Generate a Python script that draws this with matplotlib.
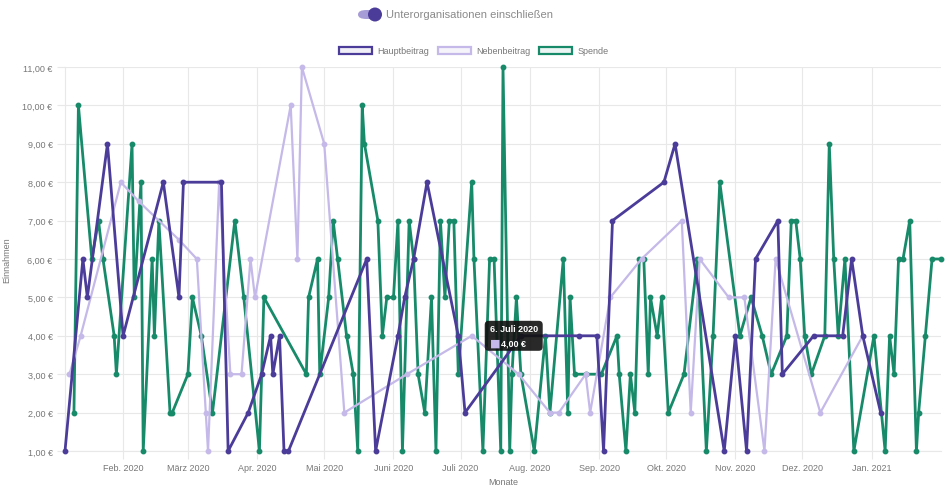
import pandas as pd
import matplotlib
matplotlib.use('Agg')
import matplotlib.pyplot as plt
import matplotlib.dates as mdates
from matplotlib.patches import Patch, FancyBboxPatch, Ellipse
from matplotlib.transforms import offset_copy

plt.rcParams['font.family'] = ['Liberation Sans', 'DejaVu Sans']

# Hauptbeitrag
haupt_dates = ['2020-01-06', '2020-01-14', '2020-01-16', '2020-01-25', '2020-02-01',
               '2020-02-19', '2020-02-26', '2020-02-28', '2020-03-16', '2020-03-19',
               '2020-03-28', '2020-04-03', '2020-04-07', '2020-04-08', '2020-04-11',
               '2020-04-13', '2020-04-15', '2020-05-20', '2020-05-24', '2020-06-03',
               '2020-06-06', '2020-06-10', '2020-06-16', '2020-06-30', '2020-07-03',
               '2020-07-28', '2020-08-23', '2020-08-31', '2020-09-03', '2020-09-07',
               '2020-09-30', '2020-10-05', '2020-10-27', '2020-11-01', '2020-11-06',
               '2020-11-10', '2020-11-20', '2020-11-22', '2020-12-06', '2020-12-19',
               '2020-12-23', '2020-12-28', '2021-01-05']
haupt_values = [1, 6, 5, 9, 4, 8, 5, 8, 8, 1,
                2, 3, 4, 3, 4, 1, 1, 6, 1, 4,
                5, 6, 8, 4, 2, 4, 4, 4, 1, 7,
                8, 9, 1, 4, 1, 6, 7, 3, 4, 4,
                6, 4, 2]

# Nebenbeitrag
neben_dates = ['2020-01-08', '2020-01-13', '2020-01-31', '2020-02-08', '2020-02-26',
               '2020-03-05', '2020-03-09', '2020-03-10', '2020-03-15', '2020-03-20',
               '2020-03-25', '2020-03-29', '2020-03-31', '2020-04-16', '2020-04-19',
               '2020-04-21', '2020-05-01', '2020-05-10', '2020-06-07', '2020-07-06',
               '2020-07-27', '2020-08-10', '2020-08-14', '2020-08-26', '2020-08-28',
               '2020-09-06', '2020-09-20', '2020-10-08', '2020-10-12', '2020-10-16',
               '2020-10-29', '2020-11-05', '2020-11-14', '2020-11-19', '2020-12-09',
               '2020-12-28']
neben_values = [3, 4, 8, 7.5, 6.5, 6, 2, 1, 8, 3,
                3, 6, 5, 10, 6, 11, 9, 2, 3, 4,
                3, 2, 2, 3, 2, 5, 6, 7, 2, 6,
                5, 5, 1, 6, 2, 4]

# Spende
spende_dates = ['2020-01-10', '2020-01-12', '2020-01-18', '2020-01-21', '2020-01-23',
                '2020-01-28', '2020-01-29', '2020-02-05', '2020-02-06', '2020-02-09',
                '2020-02-10', '2020-02-14', '2020-02-15', '2020-02-17', '2020-02-22',
                '2020-02-23', '2020-03-01', '2020-03-03', '2020-03-07', '2020-03-12',
                '2020-03-22', '2020-03-26', '2020-04-02', '2020-04-04', '2020-04-23',
                '2020-04-24', '2020-04-28', '2020-04-29', '2020-05-03', '2020-05-05',
                '2020-05-07', '2020-05-11', '2020-05-14', '2020-05-16', '2020-05-18',
                '2020-05-19', '2020-05-25', '2020-05-27', '2020-05-29', '2020-06-01',
                '2020-06-03', '2020-06-05', '2020-06-08', '2020-06-10', '2020-06-12',
                '2020-06-15', '2020-06-18', '2020-06-20', '2020-06-22', '2020-06-24',
                '2020-06-26', '2020-06-28', '2020-06-30', '2020-07-06', '2020-07-07',
                '2020-07-11', '2020-07-14', '2020-07-16', '2020-07-19', '2020-07-20',
                '2020-07-23', '2020-07-24', '2020-07-26', '2020-07-28', '2020-08-03',
                '2020-08-08', '2020-08-10', '2020-08-16', '2020-08-18', '2020-08-19',
                '2020-08-21', '2020-08-26', '2020-09-02', '2020-09-09', '2020-09-10',
                '2020-09-13', '2020-09-15', '2020-09-17', '2020-09-19', '2020-09-21',
                '2020-09-23', '2020-09-24', '2020-09-27', '2020-09-29', '2020-10-02',
                '2020-10-09', '2020-10-15', '2020-10-19', '2020-10-22', '2020-10-25',
                '2020-11-03', '2020-11-08', '2020-11-13', '2020-11-17', '2020-11-24',
                '2020-11-26', '2020-11-28', '2020-11-30', '2020-12-02', '2020-12-05',
                '2020-12-11', '2020-12-13', '2020-12-15', '2020-12-17', '2020-12-20',
                '2020-12-24', '2021-01-02', '2021-01-07', '2021-01-09', '2021-01-11',
                '2021-01-13', '2021-01-15', '2021-01-18', '2021-01-21', '2021-01-22',
                '2021-01-25', '2021-01-28', '2021-02-01']
spende_values = [2, 10, 6, 7, 6, 4, 3, 9, 5, 8,
                 1, 6, 4, 7, 2, 2, 3, 5, 4, 2,
                 7, 5, 1, 5, 3, 5, 6, 3, 5, 7,
                 6, 4, 3, 1, 10, 9, 7, 4, 5, 5,
                 7, 1, 7, 6, 3, 2, 5, 1, 7, 5,
                 7, 7, 3, 8, 6, 1, 6, 6, 1, 11,
                 1, 3, 5, 3, 1, 4, 2, 6, 2, 5,
                 3, 3, 3, 4, 3, 1, 3, 2, 6, 6,
                 3, 5, 4, 5, 2, 3, 6, 1, 4, 8,
                 4, 5, 4, 3, 4, 7, 7, 6, 4, 3,
                 4, 9, 6, 4, 6, 1, 4, 1, 4, 3,
                 6, 6, 7, 1, 2, 4, 6, 6]

month_ticks = ['2020-02-01', '2020-03-01', '2020-04-01', '2020-05-01', '2020-06-01',
               '2020-07-01', '2020-08-01', '2020-09-01', '2020-10-01', '2020-11-01',
               '2020-12-01', '2021-01-01']
month_labels = ['Feb. 2020', 'März 2020', 'Apr. 2020', 'Mai 2020', 'Juni 2020',
                'Juli 2020', 'Aug. 2020', 'Sep. 2020', 'Okt. 2020', 'Nov. 2020',
                'Dez. 2020', 'Jan. 2021']
y_ticks = [1, 2, 3, 4, 5, 6, 7, 8, 9, 10, 11]

tooltip_date = '2020-07-06'
tooltip_value = 4

haupt_color = '#4b3c9a'
neben_color = '#c4b9e8'
spende_color = '#178a69'
text_color = '#777777'
grid_color = '#e8e8e8'

fig = plt.figure(figsize=(9.49, 4.89), dpi=100)
ax = fig.add_axes([65 / 949, 1 - 452 / 489, 876 / 949, 384 / 489])

ax.plot(pd.to_datetime(spende_dates), spende_values, color=spende_color, lw=2,
        marker='o', ms=3.2, zorder=3, clip_on=False)
ax.plot(pd.to_datetime(neben_dates), neben_values, color=neben_color, lw=1.6,
        marker='o', ms=3.2, zorder=4, clip_on=False)
ax.plot(pd.to_datetime(haupt_dates), haupt_values, color=haupt_color, lw=2,
        marker='o', ms=3.2, zorder=5, clip_on=False)

all_dates = pd.to_datetime(haupt_dates + neben_dates + spende_dates)
ax.set_xlim(all_dates.min(), all_dates.max())
ax.set_ylim(1, 11)

ax.set_xticks(pd.to_datetime(month_ticks))
ax.set_xticklabels(month_labels)
ax.set_yticks(y_ticks)
ax.set_yticklabels(['{:d},00 €'.format(v) for v in y_ticks])
ax.tick_params(axis='both', labelsize=6.5, labelcolor=text_color, color=grid_color,
               length=6, width=0.8, pad=3)
ax.grid(True, color=grid_color, lw=0.8)
ax.set_axisbelow(True)
for side in ['top', 'right']:
    ax.spines[side].set_visible(False)
for side in ['left', 'bottom']:
    ax.spines[side].set_color(grid_color)
    ax.spines[side].set_linewidth(0.8)

ax.set_ylabel('Einnahmen', fontsize=6.5, color=text_color, labelpad=8)
ax.set_xlabel('Monate', fontsize=6.5, color=text_color, labelpad=3)

# tooltip, anchored on the hovered point (pixel offsets from it)
tip_x = mdates.date2num(pd.to_datetime(tooltip_date))
px, py = ax.transData.transform((tip_x, tooltip_value))
box = FancyBboxPatch((px + 13, py - 15), 58, 30,
                     boxstyle='round,pad=0,rounding_size=4', transform=None,
                     fc='#111111', ec='none', alpha=0.9, zorder=10)
fig.add_artist(box)
fig.text(px + 18, py + 7, '6. Juli 2020', transform=None, ha='left', va='center',
         fontsize=6.5, fontweight='bold', color='white', zorder=11)
fig.text(px + 18, py - 7, '■', transform=None, ha='left', va='center',
         fontsize=8, color=neben_color, family=['DejaVu Sans'], zorder=11)
fig.text(px + 29, py - 7, '4,00 €', transform=None, ha='left', va='center',
         fontsize=6.5, fontweight='bold', color='white', zorder=11)

# legend
handles = [Patch(facecolor=(0.29, 0.24, 0.6, 0.08), edgecolor=haupt_color, lw=1.6),
           Patch(facecolor=(0.77, 0.73, 0.91, 0.15), edgecolor=neben_color, lw=1.6),
           Patch(facecolor=(0.09, 0.54, 0.41, 0.08), edgecolor=spende_color, lw=1.6)]
fig.legend(handles, ['Hauptbeitrag', 'Nebenbeitrag', 'Spende'], loc='center',
           bbox_to_anchor=(474 / 949, 1 - 52 / 489), ncol=3, frameon=False,
           fontsize=6.5, labelcolor=text_color, handlelength=3.6, handleheight=0.9,
           handletextpad=0.6, columnspacing=1.0)

# toggle switch
fig.add_artist(FancyBboxPatch((358 / 949, 1 - 20 / 489), 20 / 949, 9 / 489,
                              boxstyle='round,pad=0,rounding_size=0.009',
                              transform=fig.transFigure, fc='#a79dd6', ec='none'))
fig.add_artist(Ellipse((375 / 949, 1 - 15.5 / 489), 14 / 949, 14 / 489,
                       transform=fig.transFigure, fc='#4b3c9a', ec='none'))
fig.text(386 / 949, 1 - 15.5 / 489, 'Unterorganisationen einschließen', fontsize=8,
         color='#8a8a8a', ha='left', va='center')

fig.savefig('out.png', dpi=100)
